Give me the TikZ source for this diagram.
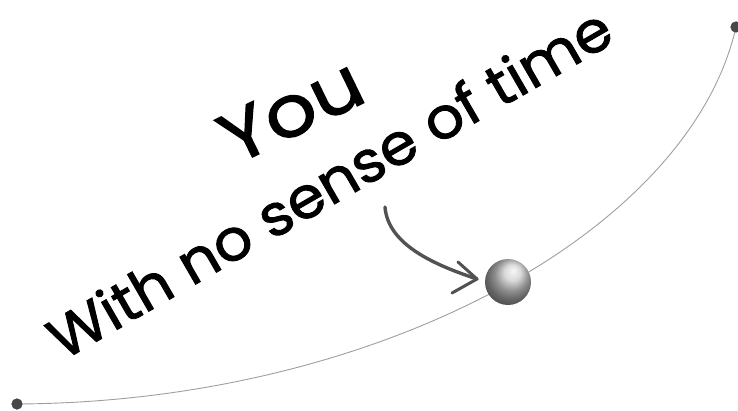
\documentclass[tikz,border=0pt]{standalone}
\usepackage{fontspec}
\usepackage{graphicx}
\newfontfamily\hand[FakeBold=1.5]{Poppins}
\usetikzlibrary{shadings}
\tikzset{
  orbit/.style={draw=gray!75, line width=0.9pt},
  enddot/.style={circle, fill=black!72, inner sep=0pt, minimum size=11pt},
  sphere/.style={circle, inner sep=0pt, minimum size=46pt, shading=ball, ball color=gray!40, shading angle=-70},
  pointer/.style={draw=black!68, line width=3.4pt, line cap=round, line join=round},
  handtext/.style={inner sep=0pt, text=black, font=\hand}
}
\begin{document}
\begin{tikzpicture}[x=1pt,y=1pt]
\useasboundingbox (0,0) rectangle (738,410);
% orbit curve
\node[enddot] (s) at (17,6) {};
\node[enddot] (e) at (736,383) {};
\draw[orbit] (s.center) .. controls (380,8) and (690,180) .. (e.center);
\node[enddot] at (s) {};
\node[enddot] at (e) {};
% ball
\node[sphere] (ball) at (508,128) {};
% texts
\node[handtext, anchor=base, rotate=26] (you) at (302,277) {\resizebox{150pt}{50pt}{You}};
\node[handtext, anchor=base, rotate=30] (sub) at (340,209) {\resizebox{640pt}{44pt}{With no sense of time}};
% arrow
\coordinate (a0) at (385,203);
\coordinate (tip) at (477,131);
\coordinate (b1) at (458,148);
\coordinate (b2) at (452,117);
\draw[pointer] (a0) .. controls (388,165) and (435,145) .. (tip);
\draw[pointer, line width=3pt] (b1) -- (tip) -- (b2);
\end{tikzpicture}
\end{document}
